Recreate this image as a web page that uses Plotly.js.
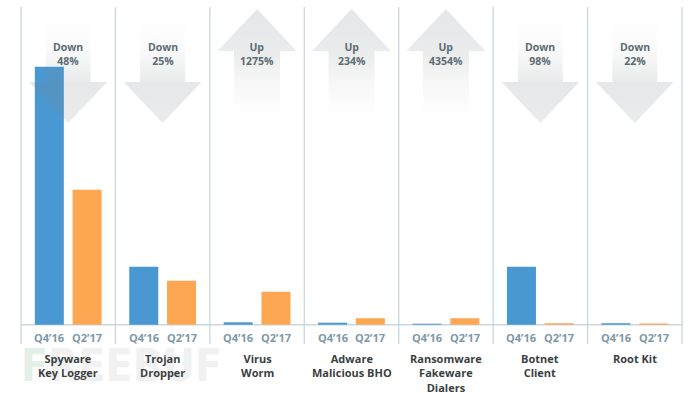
<!DOCTYPE html>
<html>
<head>
<meta charset="utf-8">
<script src="https://cdn.plot.ly/plotly-3.0.1.min.js"></script>
<style>html,body{margin:0;padding:0;background:#fff;}#chart{width:690px;height:393px;}</style>
</head>
<body>
<div id="chart"></div>
<script>
// ---- data ----
const categories = ['Spyware<br>Key Logger', 'Trojan<br>Dropper', 'Virus<br>Worm', 'Adware<br>Malicious BHO', 'Ransomware<br>Fakeware<br>Dialers', 'Botnet<br>Client', 'Root Kit'];
const periods = ['Q4\u201916', 'Q2\u201917'];
const q4_16 = [258, 58, 2.4, 2, 1, 58, 1.5];
const q2_17 = [135, 44, 33, 6.5, 6.5, 1.5, 1.2];
const changeDir = ['Down', 'Down', 'Up', 'Up', 'Up', 'Down', 'Down'];
const changePct = ['48%', '25%', '1275%', '234%', '4354%', '98%', '22%'];

// ---- styling ----
const BLUE = '#4a98d2', ORANGE = '#fda753';
const SEP = '#c9d6dd';
const idx = categories.map((_, i) => i);

const traces = [
  {type: 'bar', x: idx, y: q4_16, name: periods[0], marker: {color: BLUE}, hoverinfo: 'skip'},
  {type: 'bar', x: idx, y: q2_17, name: periods[1], marker: {color: ORANGE}, hoverinfo: 'skip'}
];

// decorative arrows (y2 axis is a top-down pixel scale)
const hsD = 0.238, hhD = 0.413, hsU = 0.244, hhU = 0.418;
const G = 'rgba(125,130,135,';
changeDir.forEach((d, i) => {
  let xs, ys, fg;
  if (d === 'Down') {
    xs = [i - hsD, i + hsD, i + hsD, i + hhD, i, i - hhD, i - hsD, i - hsD];
    ys = [18, 18, 82, 82, 123, 82, 82, 18];
    fg = {type: 'vertical', start: 18, stop: 123,
      colorscale: [[0, G + '0)'], [0.3, G + '0.04)'], [0.6, G + '0.17)'], [0.62, G + '0.19)'], [1, G + '0.16)']]};
  } else {
    xs = [i, i + hhU, i + hsU, i + hsU, i - hsU, i - hsU, i - hhU, i];
    ys = [9, 51, 51, 116, 116, 51, 51, 9];
    fg = {type: 'vertical', start: 9, stop: 116,
      colorscale: [[0, G + '0.2)'], [0.4, G + '0.16)'], [0.7, G + '0.06)'], [1, G + '0)']]};
  }
  traces.push({type: 'scatter', x: xs, y: ys, yaxis: 'y2', mode: 'lines', line: {width: 0, color: 'rgba(0,0,0,0)'},
    fill: 'toself', fillcolor: G + '0.12)', fillgradient: fg, hoverinfo: 'skip', showlegend: false});
});

const shapes = [];
for (let i = 0; i <= categories.length; i++) {
  shapes.push({type: 'line', xref: 'x', yref: 'y2', x0: i - 0.5, x1: i - 0.5, y0: 7, y1: 344,
    line: {color: SEP, width: 1.3}, layer: 'below'});
}
shapes.push({type: 'line', xref: 'x', yref: 'y', x0: -0.5, x1: categories.length - 0.5, y0: 0, y1: 0,
  line: {color: SEP, width: 1.5}, layer: 'below'});

const FONT = 'Open Sans, Noto Sans, sans-serif';
const annotations = [];
// watermark
annotations.push({xref: 'x', yref: 'y2', x: -0.52, y: 365, xanchor: 'left', yanchor: 'middle', showarrow: false,
  text: '<span style="color:#e3efe9">F</span>REEBUF', font: {family: 'Liberation Sans Narrow, DejaVu Sans Condensed, sans-serif', size: 44, color: '#f1f1f1', weight: 700}});
idx.forEach(i => {
  annotations.push({xref: 'x', yref: 'y2', x: i - 0.2, y: 337, yanchor: 'middle', showarrow: false,
    text: periods[0], font: {family: FONT, size: 11, color: '#7d98a8', weight: 700}});
  annotations.push({xref: 'x', yref: 'y2', x: i + 0.2, y: 337, yanchor: 'middle', showarrow: false,
    text: periods[1], font: {family: FONT, size: 11, color: '#7d98a8', weight: 700}});
  annotations.push({xref: 'x', yref: 'y2', x: i, y: 349, yanchor: 'top', showarrow: false,
    text: categories[i], font: {family: FONT, size: 11, color: '#3a3f42', weight: 700}});
  annotations.push({xref: 'x', yref: 'y2', x: i, y: 53.5, yanchor: 'middle', showarrow: false,
    text: changeDir[i] + '<br>' + changePct[i], font: {family: FONT, size: 10.5, color: '#5b6c74', weight: 700}});
});

const pxPerUnit = (682 - 21) / 7;
const layout = {
  width: 690, height: 393,
  margin: {l: 0, r: 0, t: 0, b: 0, pad: 0},
  paper_bgcolor: '#fff', plot_bgcolor: 'rgba(0,0,0,0)',
  showlegend: false,
  barmode: 'group', bargap: 0.2, bargroupgap: 0.232,
  xaxis: {range: [-0.5 - 21 / pxPerUnit, 6.5 + 8 / pxPerUnit], showgrid: false, zeroline: false, showticklabels: false, ticks: '', showline: false, fixedrange: true},
  yaxis: {range: [-(393 - 324.7), 324.7], showgrid: false, zeroline: false, showticklabels: false, ticks: '', showline: false, fixedrange: true},
  yaxis2: {range: [393, 0], overlaying: 'y', showgrid: false, zeroline: false, showticklabels: false, ticks: '', showline: false, fixedrange: true},
  shapes: shapes,
  annotations: annotations
};

Plotly.newPlot('chart', traces, layout, {staticPlot: true, displayModeBar: false});
</script>
</body>
</html>
